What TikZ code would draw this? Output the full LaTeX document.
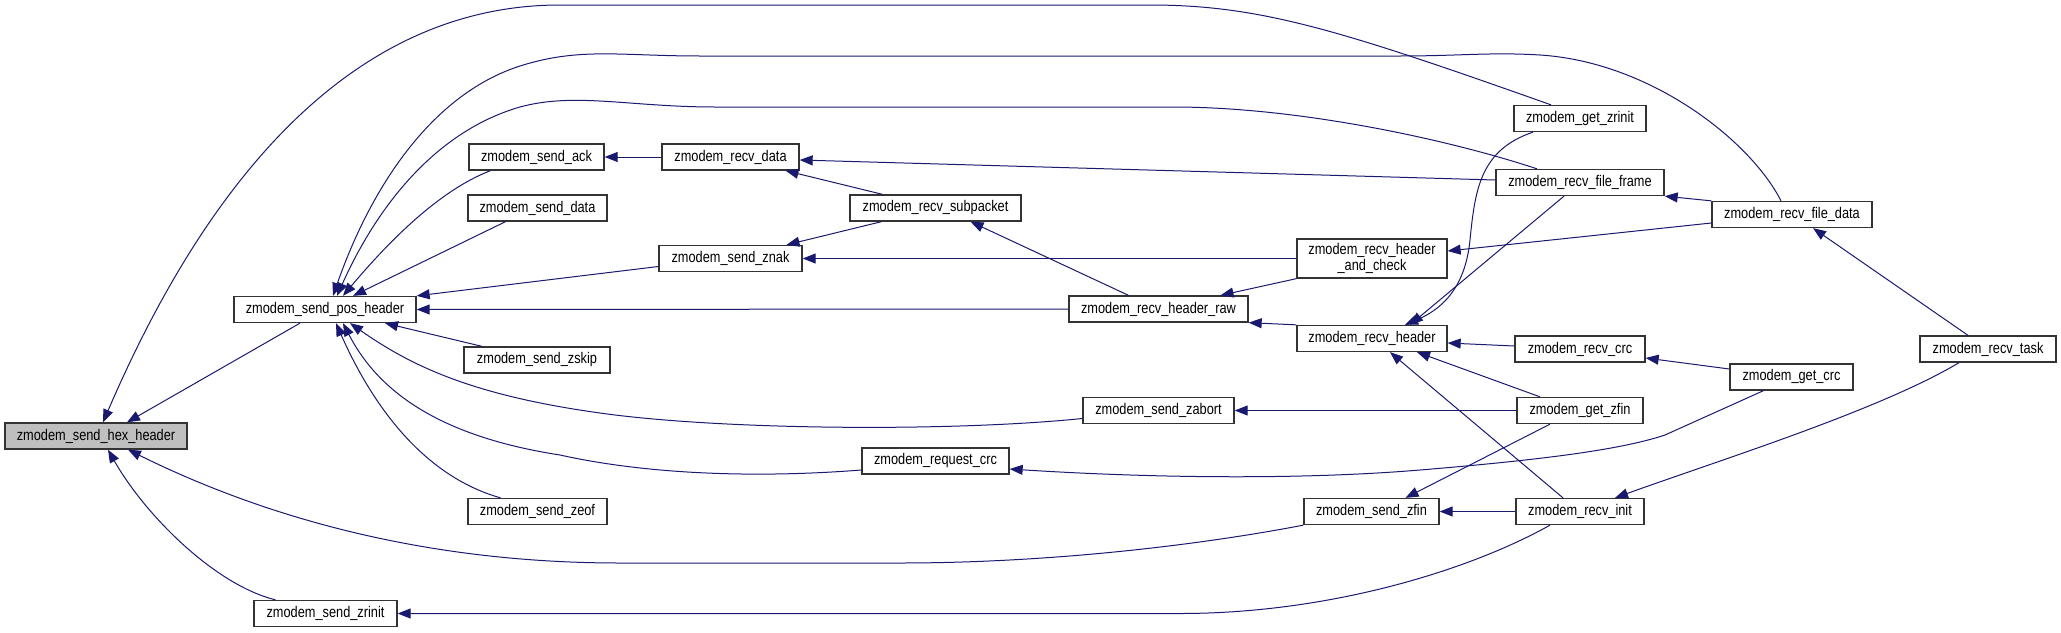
\documentclass[tikz,border=0pt]{standalone}
\usepackage{fontspec}
\setmainfont{Liberation Sans}[FakeStretch=0.83]
\usetikzlibrary{arrows.meta}
\definecolor{edgeblue}{HTML}{191970}

\begin{document}
\begin{tikzpicture}[x=1pt, y=-1pt,
  fn/.style={draw=black!80, line width=1.3pt, fill=white, inner sep=0pt, minimum height=26pt, font=\fontsize{15.4}{14}\selectfont},
  call/.style={edgeblue, line width=1pt, {Triangle[length=13pt,width=10pt]}-}]
\useasboundingbox (0,0) rectangle (2061,632);
% Root
\node[fn, fill=black!25, minimum width=182pt] (hex) at (96,436) {zmodem\_send\_hex\_header};
% Callers of the root
\node[fn, minimum width=182pt] (pos) at (325,309.5) {zmodem\_send\_pos\_header};
\node[fn, minimum width=143pt] (zrinit) at (325.5,613.5) {zmodem\_send\_zrinit};
% Callers of pos header
\node[fn, minimum width=135pt] (ack) at (536.5,157) {zmodem\_send\_ack};
\node[fn, minimum width=139pt] (sdata) at (537.5,208) {zmodem\_send\_data};
\node[fn, minimum width=146pt] (zskip) at (537,360) {zmodem\_send\_zskip};
\node[fn, minimum width=139pt] (zeof) at (537.5,511.5) {zmodem\_send\_zeof};
\node[fn, minimum width=137pt] (rdata) at (730.5,157) {zmodem\_recv\_data};
\node[fn, minimum width=143pt] (znak) at (730.5,258.5) {zmodem\_send\_znak};
\node[fn, minimum width=171pt] (subpkt) at (935.5,208) {zmodem\_recv\_subpacket};
\node[fn, minimum width=147pt] (reqcrc) at (935.5,461) {zmodem\_request\_crc};
\node[fn, minimum width=179pt] (hraw) at (1158.5,309) {zmodem\_recv\_header\_raw};
\node[fn, minimum width=151pt] (zabort) at (1158.5,410.5) {zmodem\_send\_zabort};
% Receive side
\node[fn, minimum width=150pt, minimum height=39pt, align=center] (hcheck) at (1372,258.5) {zmodem\_recv\_header\\\_and\_check};
\node[fn, minimum width=150pt] (rheader) at (1372,338.5) {zmodem\_recv\_header};
\node[fn, minimum width=135pt] (szfin) at (1371.5,511.5) {zmodem\_send\_zfin};
\node[fn, minimum width=132pt] (gzrinit) at (1580,118.5) {zmodem\_get\_zrinit};
\node[fn, minimum width=168pt] (fframe) at (1580,182.5) {zmodem\_recv\_file\_frame};
\node[fn, minimum width=130pt] (rcrc) at (1580,349) {zmodem\_recv\_crc};
\node[fn, minimum width=126pt] (gzfin) at (1580,410.5) {zmodem\_get\_zfin};
\node[fn, minimum width=128pt] (rinit) at (1580,511.5) {zmodem\_recv\_init};
\node[fn, minimum width=160pt] (fdata) at (1792,214.5) {zmodem\_recv\_file\_data};
\node[fn, minimum width=123pt] (gcrc) at (1791.5,377) {zmodem\_get\_crc};
\node[fn, minimum width=136pt] (rtask) at (1988,349) {zmodem\_recv\_task};
% Calls into the root
\draw[call] ([xshift=7pt]hex.north) .. controls (190,220) and (330,5) .. (560,5) -- (1150,5) .. controls (1260,5) and (1340,30) .. ([xshift=-29pt]gzrinit.north);
\draw[call] ([xshift=31pt]hex.north) -- ([xshift=-25pt]pos.south);
\draw[call] ([xshift=32pt]hex.south) .. controls (260,515) and (420,563) .. (620,563) -- (900,563) .. controls (1050,563) and (1200,545) .. (szfin.south west);
\draw[call] ([xshift=12pt]hex.south) .. controls (145,515) and (215,585) .. ([xshift=-50pt]zrinit.north);
% Calls into pos header
\draw[call] ([xshift=8pt]pos.north) .. controls (370,190) and (430,95) .. (520,66) .. controls (580,47) and (620,56) .. (700,56) -- (1400,56) .. controls (1460,56) and (1490,52) .. (1540,55) .. controls (1650,62) and (1750,140) .. ([xshift=-11pt]fdata.north);
\draw[call] ([xshift=12pt]pos.north) .. controls (380,200) and (440,130) .. (520,107) .. controls (575,92) and (630,107) .. (715,107) -- (1173,107) .. controls (1300,107) and (1450,140) .. ([xshift=-43pt]fframe.north);
\draw[call] ([xshift=18pt]pos.north) .. controls (390,240) and (440,190) .. ([xshift=-46pt]ack.south);
\draw[call] ([xshift=28pt]pos.north) -- ([xshift=-32pt]sdata.south);
\draw[call] (pos.north east) -- ([yshift=-8pt]znak.west);
\draw[call] (pos.east) -- (hraw.west);
\draw[call] ([xshift=60pt]pos.south) -- ([xshift=-55pt]zskip.north);
\draw[call] ([xshift=25pt]pos.south) .. controls (410,365) and (470,395) .. (600,413) .. controls (720,430) and (950,432) .. ([yshift=-8pt]zabort.west);
\draw[call] ([xshift=18pt]pos.south) .. controls (375,385) and (430,435) .. (560,455) .. controls (650,475) and (760,478) .. ([yshift=-9pt]reqcrc.west);
\draw[call] ([xshift=11pt]pos.south) .. controls (370,400) and (420,475) .. ([xshift=-37pt]zeof.north);
% Middle of the graph
\draw[call] (ack.east) -- (rdata.west);
\draw[call] ([yshift=-3pt]rdata.east) -- ([yshift=2.5pt]fframe.west);
\draw[call] ([xshift=55pt]rdata.south) -- ([xshift=-53pt]subpkt.north);
\draw[call] ([xshift=56pt]znak.north) -- ([xshift=-54pt]subpkt.south);
\draw[call] (znak.east) -- (hcheck.west);
\draw[call] ([xshift=35pt]subpkt.south) -- ([xshift=-30pt]hraw.north);
\draw[call] ([xshift=62pt]hraw.north) -- (hcheck.south west);
\draw[call] (hraw.south east) -- (rheader.north west);
\draw[call] (zabort.east) -- (gzfin.west);
\draw[call] ([yshift=-8pt]reqcrc.east) .. controls (1150,478) and (1300,480) .. (1420,470) .. controls (1540,460) and (1620,450) .. (1665,435) -- ([xshift=-28pt]gcrc.south);
\draw[call] ([xshift=34pt]szfin.north) -- ([xshift=-30pt]gzfin.south);
\draw[call] (szfin.east) -- (rinit.west);
\draw[call] (zrinit.east) -- (1180,613.5) .. controls (1330,613.5) and (1470,570) .. ([xshift=-30pt]rinit.south);
% Receive side
\draw[call] ([xshift=33pt]rheader.north) .. controls (1440,310) and (1465,290) .. (1470,240) .. controls (1475,190) and (1480,150) .. ([xshift=-47pt]gzrinit.south);
\draw[call] ([xshift=38pt]rheader.north) -- ([xshift=-16pt]fframe.south);
\draw[call] ([yshift=7.5pt]hcheck.east) -- ([yshift=-8.5pt]fdata.west);
\draw[call] (fframe.south east) -- (fdata.north west);
\draw[call] ([xshift=21pt]fdata.south) -- ([xshift=-20pt]rtask.north);
\draw[call] ([yshift=-4.5pt]rheader.east) -- ([yshift=3pt]rcrc.west);
\draw[call] ([xshift=45pt]rheader.south) -- ([xshift=-40pt]gzfin.north);
\draw[call] ([xshift=18pt]rheader.south) -- ([xshift=-17pt]rinit.north);
\draw[call] ([yshift=-9pt]rcrc.east) -- ([yshift=8pt]gcrc.west);
\draw[call] ([xshift=35pt]rinit.north) .. controls (1720,460) and (1880,410) .. ([xshift=-29pt]rtask.south);
\end{tikzpicture}
\end{document}
